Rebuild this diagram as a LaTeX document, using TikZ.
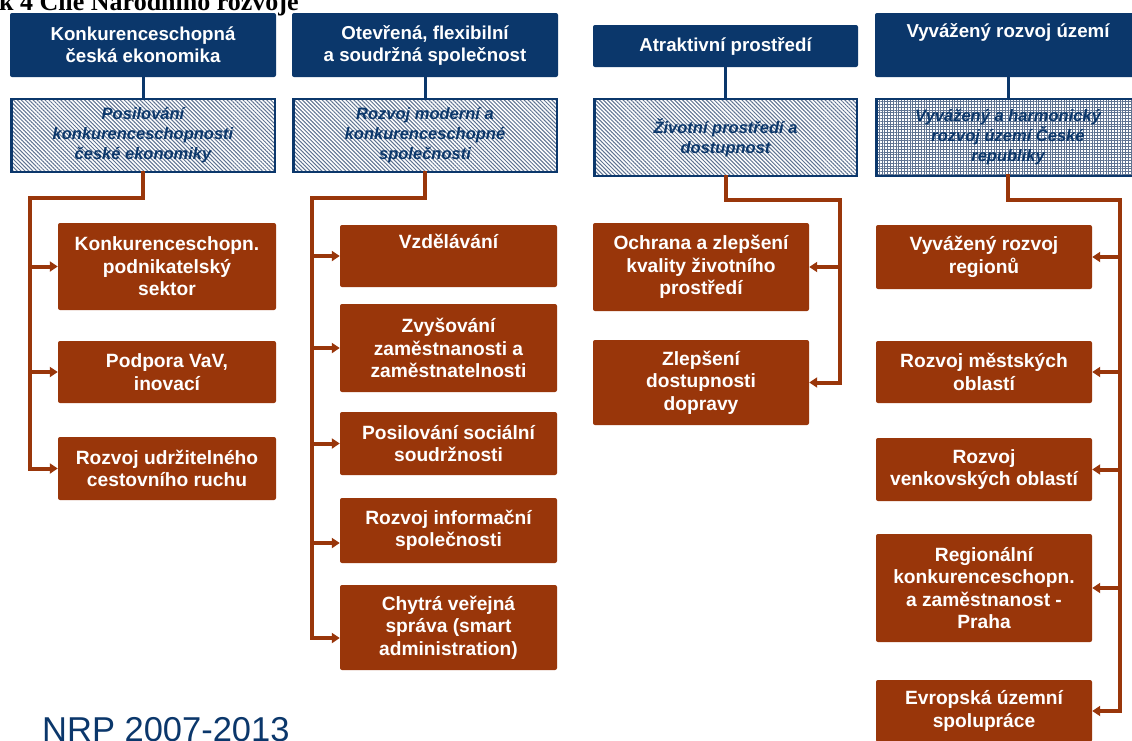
\documentclass[tikz,border=0pt]{standalone}
\usepackage{fontspec}
\setmainfont{Liberation Sans}
\newfontfamily\titlefont{Liberation Serif}
\usetikzlibrary{arrows.meta,patterns.meta}
\definecolor{navyc}{RGB}{11,55,107}
\definecolor{brownc}{RGB}{153,54,10}
\definecolor{hatchc}{RGB}{95,115,145}
\begin{document}
\begin{tikzpicture}[x=1pt,y=-1pt,
  hdr/.style={fill=navyc, text=white, rounded corners=2pt, inner sep=0pt, align=center,
    font=\fontsize{18.7}{22}\selectfont\bfseries, minimum width=266pt},
  hatchbox/.style={draw=navyc, line width=2.5pt,
    pattern={Lines[angle=-45,distance=2.8pt,line width=1pt]}, pattern color=hatchc,
    text=navyc, inner sep=0pt, align=center,
    font=\fontsize{16.5}{20}\selectfont\bfseries\itshape, minimum width=263.5pt},
  gridbox/.style={hatchbox, pattern={Hatch[angle=0,distance=2.8pt,line width=0.9pt]}},
  bx/.style={fill=brownc, text=white, rounded corners=2pt, inner sep=0pt, align=center,
    font=\fontsize{19.2}{22.5}\selectfont\bfseries, minimum width=217pt},
  navline/.style={draw=navyc, line width=3pt},
  brn/.style={draw=brownc, line width=4pt, line cap=rect},
  arr/.style={draw=brownc, line width=4pt, -{Triangle[length=8pt,width=10pt]}},
  ttl/.style={font=\titlefont\fontsize{26}{30}\selectfont\bfseries, inner sep=0pt},
  nrp/.style={font=\fontsize{34.5}{40}\selectfont, text=navyc, inner sep=0pt}
]
\useasboundingbox (0,0) rectangle (1132,740);
\fill[white] (0,0) rectangle (1132,740);
\clip (0,0) rectangle (1132,740);

\node[ttl, anchor=base west] (title) at (-1,10) {k 4 Cíle Národního rozvoje};
\node[nrp, anchor=base west] (nrp) at (42,741) {NRP 2007-2013};

% column 1
\node[hdr, minimum height=64pt] (h1) at (143,45) {Konkurenceschopná\\česká ekonomika};
\node[hatchbox, minimum height=73pt] (p1) at (143,135.5) {Posilování\\konkurenceschopnosti\\české ekonomiky};
\node[bx, minimum width=218pt, minimum height=87pt] (b1a) at (167,266.5) {Konkurenceschopn.\\podnikatelský\\sektor};
\node[bx, minimum width=218pt, minimum height=62pt] (b1b) at (167,372) {Podpora VaV,\\inovací};
\node[bx, minimum width=218pt, minimum height=63pt] (b1c) at (167,468.5) {Rozvoj udržitelného\\cestovního ruchu};

% column 2
\node[hdr, minimum height=64pt] (h2) at (425,45) {Otevřená, flexibilní\\a soudržná společnost};
\node[hatchbox, minimum height=73pt] (p2) at (425,135.5) {Rozvoj moderní a\\konkurenceschopné\\společnosti};
\node[bx, minimum height=62pt] (b2a) at (448.5,256) {Vzdělávání\\\strut};
\node[bx, minimum height=88pt] (b2b) at (448.5,348) {Zvyšování\\zaměstnanosti a\\zaměstnatelnosti};
\node[bx, minimum height=63pt] (b2c) at (448.5,443.5) {Posilování sociální\\soudržnosti};
\node[bx, minimum height=65pt] (b2d) at (448.5,530.5) {Rozvoj informační\\společnosti};
\node[bx, minimum height=85pt] (b2e) at (448.5,627.5) {Chytrá veřejná\\správa (smart\\administration)};

% column 3
\node[hdr, minimum width=265pt, minimum height=42pt] (h3) at (725.5,46) {Atraktivní prostředí};
\node[hatchbox, minimum width=262.5pt, minimum height=77pt] (p3) at (725.5,137.5) {Životní prostředí a\\dostupnost};
\node[bx, minimum width=216pt, minimum height=88pt] (b3a) at (701,267) {Ochrana a zlepšení\\kvality životního\\prostředí};
\node[bx, minimum width=216pt, minimum height=85pt] (b3b) at (701,382.5) {Zlepšení\\dostupnosti\\dopravy};

% column 4
\node[hdr, minimum height=64pt] (h4) at (1008,45) {Vyvážený rozvoj území\\\strut};
\node[gridbox, minimum height=77pt] (p4) at (1008,137.5) {Vyvážený a harmonický\\rozvoj území České\\republiky};
\node[bx, minimum width=216pt, minimum height=64pt] (b4a) at (984,257) {Vyvážený rozvoj\\regionů};
\node[bx, minimum width=216pt, minimum height=62pt] (b4b) at (984,372) {Rozvoj městských\\oblastí};
\node[bx, minimum width=216pt, minimum height=63pt] (b4c) at (984,469.5) {Rozvoj\\venkovských oblastí};
\node[bx, minimum width=216pt, minimum height=108pt] (b4d) at (984,588) {Regionální\\konkurenceschopn.\\a zaměstnanost -\\Praha};
\node[bx, minimum width=216pt, minimum height=62pt] (b4e) at (984,711) {Evropská územní\\spolupráce};

% navy connectors
\draw[navline] (h1.south) -- (p1.north);
\draw[navline] (h2.south) -- (p2.north);
\draw[navline] (h3.south) -- (p3.north);
\draw[navline] (h4.south) -- (p4.north);

% brown trunks
\coordinate (t1a) at (30,198);
\coordinate (t1b) at (30,468.5);
\draw[brn] (p1.south) |- (t1a) -- (t1b);
\draw[arr] (t1a |- b1a.west) -- (b1a.west);
\draw[arr] (t1a |- b1b.west) -- (b1b.west);
\draw[arr] (t1a |- b1c.west) -- (b1c.west);

\coordinate (t2a) at (312,198);
\coordinate (t2b) at (312,638);
\draw[brn] (p2.south) |- (t2a) -- (t2b);
\draw[arr] (t2a |- b2a.west) -- (b2a.west);
\draw[arr] (t2a |- b2b.west) -- (b2b.west);
\draw[arr] (t2a |- b2c.west) -- (b2c.west);
\draw[arr] (t2a |- 0,543) -- (b2d.west |- 0,543);
\draw[arr] (t2a |- t2b) -- (b2e.west |- t2b);

\coordinate (t3a) at (840,200);
\coordinate (t3b) at (840,382.5);
\draw[brn] (p3.south) |- (t3a) -- (t3b);
\draw[arr] (t3a |- b3a.east) -- (b3a.east);
\draw[arr] (t3a |- b3b.east) -- (b3b.east);

\coordinate (t4a) at (1120,200);
\coordinate (t4b) at (1120,711);
\draw[brn] (p4.south) |- (t4a) -- (t4b);
\draw[arr] (t4a |- b4a.east) -- (b4a.east);
\draw[arr] (t4a |- b4b.east) -- (b4b.east);
\draw[arr] (t4a |- b4c.east) -- (b4c.east);
\draw[arr] (t4a |- b4d.east) -- (b4d.east);
\draw[arr] (t4a |- b4e.east) -- (b4e.east);
\end{tikzpicture}
\end{document}
